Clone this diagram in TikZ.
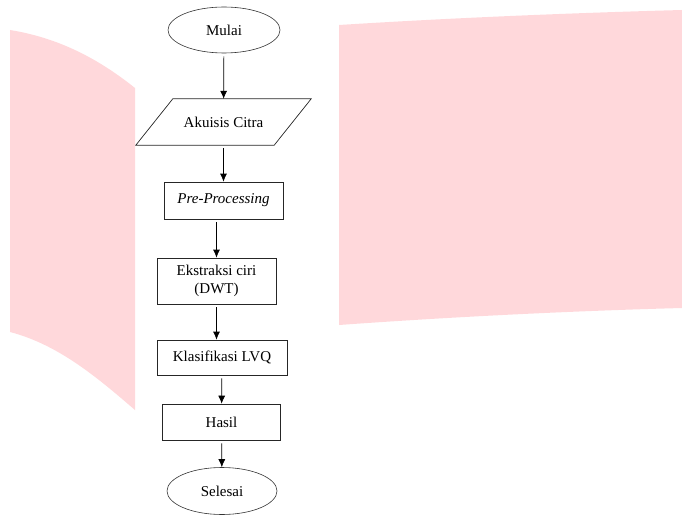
\documentclass[tikz,border=0pt]{standalone}
\usepackage{fontspec}
\setmainfont{Liberation Serif}
\usetikzlibrary{shapes.geometric,arrows.meta}
\definecolor{wmpink}{RGB}{255,216,219}
\begin{document}
\begin{tikzpicture}[x=1pt,y=-1pt,
		every node/.style={font=\fontsize{15}{17.5}\selectfont},
		terminal/.style={draw=black!80,line width=0.6pt,ellipse,minimum width=112pt,minimum height=46pt,inner sep=0pt},
		process/.style={draw=black!85,line width=0.7pt,rectangle,inner sep=0pt,align=center},
		outline/.style={draw=black!85,line width=0.7pt},
		flow/.style={-{Latex[length=8pt,width=7pt]},line width=0.7pt,shorten <=3pt}]
			\useasboundingbox (0,0) rectangle (682,516);
			
			% background watermark
			\fill[wmpink] (10,30) .. controls (60,38) and (100,60) .. (135,88) -- (135,410) .. controls (100,380) and (60,345) .. (10,332) -- cycle;
			\fill[wmpink] (339,25) .. controls (450,18) and (570,13) .. (682,10) -- (682,308) .. controls (570,311) and (450,317) .. (339,325) -- cycle;
			
			% flowchart
			\node[terminal] (mulai) at (224,30) {Mulai};
			\node[minimum width=138pt,minimum height=46pt,inner sep=0pt] (akuisis) at (223.5,122) {Akuisis Citra};
			\draw[outline] ([xshift=18.5pt]akuisis.north west) -- ([xshift=18.5pt]akuisis.north east) -- ([xshift=-18.5pt]akuisis.south east) -- ([xshift=-18.5pt]akuisis.south west) -- cycle;
			\node[process,minimum width=119pt,minimum height=37pt] (pre) at (223.5,200.5) {\textit{Pre-Processing}};
			\node[process,minimum width=119pt,minimum height=46pt] (ekstraksi) at (216.5,281) {Ekstraksi ciri\\(DWT)};
			\node[process,minimum width=130pt,minimum height=35pt] (klasifikasi) at (222,357.5) {Klasifikasi LVQ};
			\node[process,minimum width=118pt,minimum height=36pt] (hasil) at (221.5,422) {Hasil};
			\node[terminal,minimum width=110pt,minimum height=47pt] (selesai) at (222,491) {Selesai};
			
			\draw[flow] (mulai) -- (akuisis);
			\draw[flow] (akuisis) -- (pre);
			\draw[flow] (pre.south -| ekstraksi.north) -- (ekstraksi.north);
			\draw[flow] (ekstraksi.south) -- (ekstraksi.south |- klasifikasi.north);
			\draw[flow] (klasifikasi) -- (hasil);
			\draw[flow] (hasil) -- (selesai);
		\end{tikzpicture}
\end{document}
